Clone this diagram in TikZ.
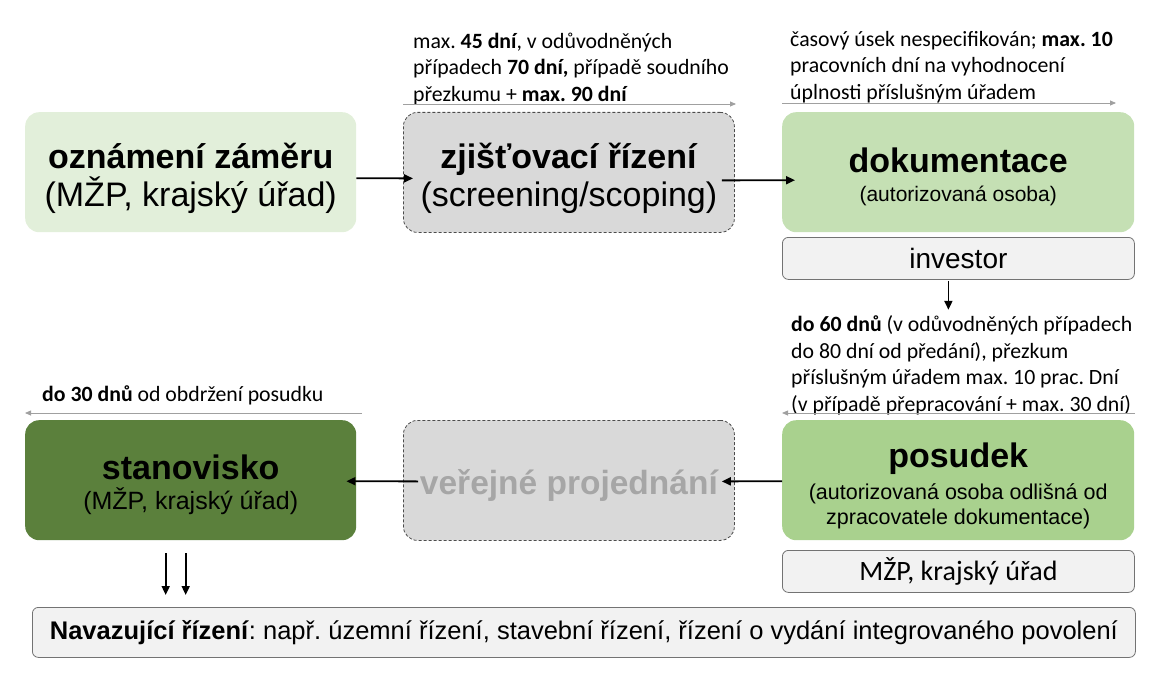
\documentclass[tikz,border=0pt]{standalone}
\usepackage{fontspec}
\setmainfont{Liberation Sans}
\newfontfamily\calfont{Carlito}
\usetikzlibrary{arrows.meta}
\definecolor{lgreen}{HTML}{E2EFDA}
\definecolor{mgreen}{HTML}{C5E0B4}
\definecolor{pgreen}{HTML}{A9D18E}
\definecolor{dgreen}{HTML}{5B803C}
\definecolor{boxgray}{HTML}{D9D9D9}
\definecolor{lightgray2}{HTML}{F2F2F2}
\definecolor{txtgray}{HTML}{A6A6A6}
\definecolor{arrgray}{HTML}{A0A0A0}
\frenchspacing
\begin{document}
\begin{tikzpicture}[x=1pt,y=-1pt,
  bigbox/.style={rounded corners=14pt,minimum width=331pt,minimum height=120pt,inner sep=0pt,anchor=north west},
  widebox/.style={rounded corners=14pt,minimum width=352pt,minimum height=120pt,inner sep=0pt,anchor=north west},
  txt/.style={inner sep=0pt,align=center},
  smallbox/.style={rounded corners=6pt,draw=black!55,fill=lightgray2,line width=0.8pt,minimum width=352pt,minimum height=42pt,inner sep=0pt,anchor=north west},
  dashbox/.style={draw=black!70,line width=0.8pt,dash pattern=on 3pt off 2pt},
  ann/.style={font=\calfont\fontsize{21.8}{26.5}\selectfont,align=left,anchor=north west,inner sep=0pt},
  blk/.style={-{Triangle[length=9pt,width=8pt]},line width=1.8pt},
  gry/.style={-{Triangle[length=6pt,width=5pt]},line width=0.8pt,draw=arrgray,color=arrgray},
]
\useasboundingbox (0,0) rectangle (1158,695);

% boxes
\node[bigbox,fill=lgreen] (ozn) at (25,112) {};
\node[bigbox,fill=boxgray,dashbox] (zji) at (403,112) {};
\node[widebox,fill=mgreen] (dok) at (782,112) {};
\node[smallbox,font=\fontsize{28}{32}\selectfont] (inv) at (782,237) {investor};
\node[widebox,fill=pgreen] (pos) at (782,420) {};
\node[smallbox,font=\calfont\fontsize{28}{32}\selectfont] (mzp) at (782,550) {MŽP, krajský úřad};
\node[bigbox,fill=boxgray,dashbox] (ver) at (403,420) {};
\node[bigbox,fill=dgreen] (sta) at (25,420) {};
\node[rounded corners=6pt,draw=black!55,fill=lightgray2,line width=0.8pt,minimum width=1103pt,minimum height=50pt,inner sep=0pt,anchor=north west,font=\fontsize{25.5}{30}\selectfont] (nav) at (32,607) {\textbf{Navazující řízení}: např. územní řízení, stavební řízení, řízení o vydání integrovaného povolení};

% box texts
\node[txt,font=\fontsize{34}{38}\selectfont] (ozn-t) at ([yshift=-6pt]ozn.center) {\textbf{oznámení záměru}\\(MŽP, krajský úřad)};
\node[txt,font=\fontsize{34}{38}\selectfont] (zji-t) at ([yshift=-6pt]zji.center) {\textbf{zjišťovací řízení}\\(screening/scoping)};
\node[txt,font=\fontsize{34}{29}\selectfont] (dok-t) at ([yshift=-5pt]dok.center) {\textbf{dokumentace}\\{\fontsize{21}{26}\selectfont (autorizovaná osoba)}};
\node[txt,font=\fontsize{34}{25}\selectfont] (pos-t) at ([yshift=-6pt]pos.center) {\textbf{posudek}\\[7pt]{\fontsize{21.5}{25}\selectfont (autorizovaná osoba odlišná od}\\{\fontsize{21.5}{25}\selectfont zpracovatele dokumentace)}};
\node[txt,font=\bfseries\fontsize{33.5}{38}\selectfont,text=txtgray] (ver-t) at ([yshift=-5pt]ver.center) {veřejné projednání};
\node[txt,font=\fontsize{34}{30}\selectfont] (sta-t) at ([yshift=-5pt]sta.center) {\textbf{stanovisko}\\{\fontsize{25}{30}\selectfont (MŽP, krajský úřad)}};

% annotations
\node[ann] (a1) at (413,32.5) {max. \textbf{45 dní}, v odůvodněných\\případech \textbf{70 dní,} případě soudního\\přezkumu + \textbf{max. 90 dní}};
\node[ann] (a2) at (790,31) {časový úsek nespecifikován; \textbf{max. 10}\\pracovních dní na vyhodnocení\\úplnosti příslušným úřadem};
\node[ann] (a3) at (791,315.5) {\textbf{do 60 dnů} (v odůvodněných případech\\do 80 dní od předání), přezkum\\příslušným úřadem max. 10 prac. Dní\\(v případě přepracování + max. 30 dní)};
\node[ann] (a4) at (42,385.5) {\textbf{do 30 dnů} od obdržení posudku};

% gray arrows
\coordinate (g1a) at (403,104); \coordinate (g1b) at (736,104);
\coordinate (g2a) at (782,103); \coordinate (g2b) at (1116,103);
\coordinate (g3a) at (1135,413); \coordinate (g3b) at (782,413);
\coordinate (g4a) at (362,413); \coordinate (g4b) at (25,413);
\draw[gry] (g1a) -- (g1b);
\draw[gry] (g2a) -- (g2b);
\draw[gry] (g3a) -- (g3b);
\draw[gry] (g4a) -- (g4b);

% black arrows
\draw[blk] ([yshift=-6pt]ozn.east) -- ([xshift=10pt,yshift=-6pt]zji.west);
\draw[blk] ([xshift=-13pt,yshift=-8pt]zji.east) -- ([xshift=13pt,yshift=-8pt]dok.west);
\draw[blk] ([xshift=-10pt,yshift=-1pt]inv.south) -- ([xshift=-10pt,yshift=-30pt]inv.south);
\draw[blk] ([yshift=-1pt]pos.west) -- ([xshift=-13pt,yshift=-1pt]ver.east);
\draw[blk] ([xshift=15pt,yshift=-1pt]ver.west) -- ([xshift=-10pt,yshift=-1pt]sta.east);
\draw[blk] ([xshift=-25pt,yshift=-13pt]sta.south) -- ([xshift=-25pt,yshift=12pt]nav.north -| sta.south);
\draw[blk] ([xshift=-5pt,yshift=-13pt]sta.south) -- ([xshift=-5pt,yshift=12pt]nav.north -| sta.south);
\end{tikzpicture}
\end{document}
